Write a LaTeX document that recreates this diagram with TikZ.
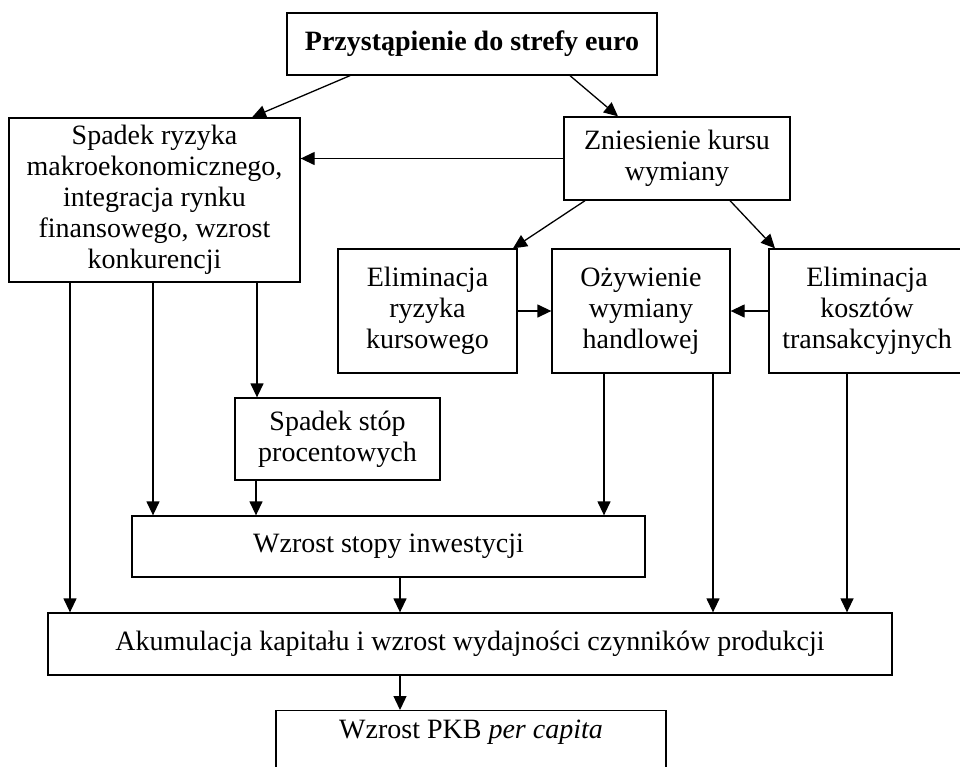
\documentclass[tikz,border=0pt]{standalone}
\usepackage{fontspec}
\setmainfont{Liberation Serif}
\usetikzlibrary{arrows.meta}
\begin{document}
\begin{tikzpicture}[x=1pt,y=-1pt,
 box/.style={draw, line width=1.3pt, inner sep=0pt, align=center, font=\fontsize{28}{31}\selectfont},
 arr/.style={line width=1.3pt, -{Triangle[length=14pt,width=13pt]}}]
\useasboundingbox (0,0) rectangle (960,766);
\node[box, minimum width=370, minimum height=62] (top) at (472,44) {\bfseries Przystąpienie do strefy euro};
\node[box, minimum width=291, minimum height=164] (spadek) at (154.5,200) {Spadek ryzyka\\makroekonomicznego,\\integracja rynku\\finansowego, wzrost\\konkurencji};
\node[box, minimum width=226, minimum height=83] (zn) at (677,158.5) {Zniesienie kursu\\wymiany};
\node[box, minimum width=179, minimum height=124] (elimR) at (427.5,311) {Eliminacja\\ryzyka\\kursowego};
\node[box, minimum width=178, minimum height=124] (ozyw) at (641,311) {Ożywienie\\wymiany\\handlowej};
\node[box, minimum width=196, minimum height=124] (elimK) at (867,311) {Eliminacja\\kosztów\\transakcyjnych};
\node[box, minimum width=205, minimum height=82] (stop) at (337.5,439) {Spadek stóp\\procentowych};
\node[box, minimum width=513, minimum height=61] (inw) at (388.5,546.5) {Wzrost stopy inwestycji};
\node[box, minimum width=844, minimum height=62] (akum) at (470,644) {Akumulacja kapitału i wzrost wydajności czynników produkcji};
\node[box, minimum width=390, text height=28, text depth=45, anchor=north] (pkb) at (471,710) {Wzrost PKB \textit{per capita}};
\draw[arr] (top.south -| 350,0) -- (spadek.north -| 252,0);
\draw[arr] (top.south -| 570,0) -- (zn.north -| 618,0);
\draw[arr] (zn.west) -- (spadek.east |- zn.west);
\draw[arr] (zn.south -| 585,0) -- (elimR.north -| 513,0);
\draw[arr] (zn.south -| 730,0) -- (elimK.north -| 775,0);
\draw[arr] (elimR.east) -- (ozyw.west);
\draw[arr] (elimK.west) -- (ozyw.east);
\draw[arr] (spadek.south -| 70,0) -- (akum.north -| 70,0);
\draw[arr] (spadek.south -| 153,0) -- (inw.north -| 153,0);
\draw[arr] (spadek.south -| 257,0) -- (stop.north -| 257,0);
\draw[arr] (stop.south -| 256,0) -- (inw.north -| 256,0);
\draw[arr] (ozyw.south -| 604,0) -- (inw.north -| 604,0);
\draw[arr] (ozyw.south -| 713,0) -- (akum.north -| 713,0);
\draw[arr] (elimK.south -| 847,0) -- (akum.north -| 847,0);
\draw[arr] (inw.south -| 400,0) -- (akum.north -| 400,0);
\draw[arr] (akum.south -| 400,0) -- (pkb.north -| 400,0);
\end{tikzpicture}
\end{document}
